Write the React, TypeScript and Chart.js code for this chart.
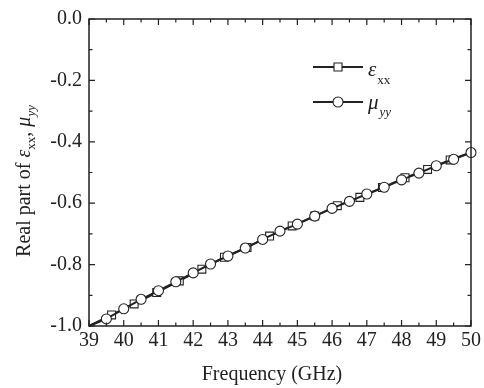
import React, { useEffect, useRef } from "react";
import { Chart, registerables } from "chart.js";

Chart.register(...registerables);

// ---- data ----
const freqEps = [39, 39.65, 40.3, 40.95, 41.6, 42.25, 42.9, 43.55, 44.2, 44.85, 45.5, 46.15, 46.8, 47.45, 48.1, 48.75, 49.4, 50];
const epsXX = [-1.0, -0.964, -0.928, -0.891, -0.853, -0.815, -0.776, -0.744, -0.707, -0.674, -0.642, -0.608, -0.581, -0.549, -0.517, -0.49, -0.459, -0.435];

const freqMu = [39, 39.5, 40, 40.5, 41, 41.5, 42, 42.5, 43, 43.5, 44, 44.5, 45, 45.5, 46, 46.5, 47, 47.5, 48, 48.5, 49, 49.5, 50];
const muYY = [-1.0, -0.977, -0.944, -0.913, -0.885, -0.856, -0.827, -0.798, -0.772, -0.746, -0.718, -0.691, -0.668, -0.642, -0.617, -0.594, -0.57, -0.548, -0.524, -0.502, -0.478, -0.457, -0.435];

const xMin = 39;
const xMax = 50;
const yMin = -1.0;
const yMax = 0.0;
const xMajorStep = 1;
const xMinorStep = 0.5;
const yMajorStep = 0.2;
const yMinorStep = 0.1;

const xTitle = "Frequency (GHz)";
const yTitleMain = "Real part of ";
const legendEps = ["ε", "xx"];
const legendMu = ["μ", "yy"];

const INK = "#222";
const SERIF = "'Liberation Serif', 'Times New Roman', serif";

const frameAndTextPlugin = {
  id: "frameAndText",
  afterDraw(chart: any) {
    const { ctx, chartArea: a, scales } = chart;
    const xs = scales.x;
    const ys = scales.y;
    ctx.save();
    ctx.strokeStyle = INK;
    ctx.lineWidth = 1.5;
    ctx.strokeRect(a.left, a.top, a.right - a.left, a.bottom - a.top);

    // inside ticks on all four sides
    ctx.lineWidth = 1.2;
    const nx = Math.round((xMax - xMin) / xMinorStep);
    for (let i = 0; i <= nx; i++) {
      const v = xMin + i * xMinorStep;
      const px = xs.getPixelForValue(v);
      const major = Math.abs(v / xMajorStep - Math.round(v / xMajorStep)) < 1e-6;
      const len = major ? 6 : 3.5;
      ctx.beginPath();
      ctx.moveTo(px, a.bottom);
      ctx.lineTo(px, a.bottom - len);
      ctx.moveTo(px, a.top);
      ctx.lineTo(px, a.top + len);
      ctx.stroke();
    }
    const ny = Math.round((yMax - yMin) / yMinorStep);
    for (let i = 0; i <= ny; i++) {
      const v = yMin + i * yMinorStep;
      const py = ys.getPixelForValue(v);
      const major = i % Math.round(yMajorStep / yMinorStep) === 0;
      const len = major ? 6 : 3.5;
      ctx.beginPath();
      ctx.moveTo(a.left, py);
      ctx.lineTo(a.left + len, py);
      ctx.moveTo(a.right, py);
      ctx.lineTo(a.right - len, py);
      ctx.stroke();
    }

    // x title
    ctx.fillStyle = INK;
    ctx.font = `20px ${SERIF}`;
    ctx.textAlign = "center";
    ctx.textBaseline = "alphabetic";
    ctx.fillText(xTitle, (a.left + a.right) / 2 - 8, 380);

    // y title (rotated, with subscripts)
    const segs = [
      { t: yTitleMain, f: `20px ${SERIF}`, dy: 0 },
      { t: "ε", f: `italic 20px ${SERIF}`, dy: 0 },
      { t: "xx", f: `13px ${SERIF}`, dy: 5 },
      { t: ", ", f: `20px ${SERIF}`, dy: 0 },
      { t: "μ", f: `italic 20px ${SERIF}`, dy: 0 },
      { t: "yy", f: `italic 13px ${SERIF}`, dy: 5 },
    ];
    let total = 0;
    for (const s of segs) {
      ctx.font = s.f;
      total += ctx.measureText(s.t).width;
    }
    ctx.save();
    ctx.translate(30, 181);
    ctx.rotate(-Math.PI / 2);
    ctx.textAlign = "left";
    let cx = -total / 2;
    for (const s of segs) {
      ctx.font = s.f;
      ctx.fillText(s.t, cx, s.dy);
      cx += ctx.measureText(s.t).width;
    }
    ctx.restore();

    // legend
    const drawEntry = (y: number, style: string, sym: string[], subItalic: boolean, symBase: number, subBase: number) => {
      ctx.strokeStyle = INK;
      ctx.lineWidth = 2;
      ctx.beginPath();
      ctx.moveTo(313, y);
      ctx.lineTo(363, y);
      ctx.stroke();
      ctx.fillStyle = "#fff";
      ctx.lineWidth = 1.1;
      ctx.beginPath();
      if (style === "rect") {
        ctx.rect(338 - 4, y - 4, 8, 8);
      } else {
        ctx.arc(338, y, 5, 0, Math.PI * 2);
      }
      ctx.fill();
      ctx.stroke();
      ctx.fillStyle = INK;
      ctx.textAlign = "left";
      ctx.font = `italic 21px ${SERIF}`;
      ctx.fillText(sym[0], 368, symBase);
      const w = ctx.measureText(sym[0]).width;
      ctx.font = `${subItalic ? "italic " : ""}13px ${SERIF}`;
      ctx.fillText(sym[1], 368 + w + 1, subBase);
    };
    drawEntry(67, "rect", legendEps, false, 76, 84);
    drawEntry(102, "circle", legendMu, true, 109, 116);

    ctx.restore();
  },
};

export default function App() {
  const ref = useRef<HTMLCanvasElement | null>(null);

  useEffect(() => {
    if (!ref.current) return;
    const chart = new Chart(ref.current, {
      type: "line",
      data: {
        datasets: [
          {
            label: "μyy",
            data: freqMu.map((f, i) => ({ x: f, y: muYY[i] })),
            borderColor: INK,
            borderWidth: 2,
            pointStyle: "circle",
            pointRadius: freqMu.map((f) => (f === xMin ? 0 : 5)),
            pointBackgroundColor: "#fff",
            pointBorderColor: INK,
            pointBorderWidth: 1.1,
            tension: 0,
            clip: false as any,
          },
          {
            label: "εxx",
            data: freqEps.map((f, i) => ({ x: f, y: epsXX[i] })),
            borderColor: INK,
            borderWidth: 2,
            pointStyle: "rect",
            pointRadius: freqEps.map((f) => (f === xMin || f === xMax ? 0 : 5.6)),
            pointBackgroundColor: "#fff",
            pointBorderColor: INK,
            pointBorderWidth: 1.1,
            tension: 0,
            clip: false as any,
          },
        ],
      },
      options: {
        animation: false,
        responsive: true,
        maintainAspectRatio: false,
        layout: { padding: { top: 19, right: 13, left: 0, bottom: 0 } },
        plugins: {
          legend: { display: false },
          tooltip: { enabled: false },
        },
        scales: {
          x: {
            type: "linear",
            min: xMin,
            max: xMax,
            grid: { display: false, drawTicks: false },
            border: { display: false },
            ticks: {
              stepSize: xMajorStep,
              color: INK,
              font: { family: SERIF, size: 20 },
              padding: 3,
              maxRotation: 0,
              autoSkip: false,
            },
            afterFit: (s: any) => {
              s.height = 62;
            },
          },
          y: {
            type: "linear",
            min: yMin,
            max: yMax,
            grid: { display: false, drawTicks: false },
            border: { display: false },
            ticks: {
              stepSize: yMajorStep,
              color: INK,
              font: { family: SERIF, size: 20 },
              padding: 7,
              callback: (v: any) => Number(v).toFixed(1),
            },
            afterFit: (s: any) => {
              s.width = 89;
            },
          },
        },
      },
      plugins: [frameAndTextPlugin],
    });
    return () => chart.destroy();
  }, []);

  return (
    <div style={{ position: "absolute", left: 0, top: 0, width: 484, height: 388, background: "#fff" }}>
      <canvas ref={ref} />
    </div>
  );
}
